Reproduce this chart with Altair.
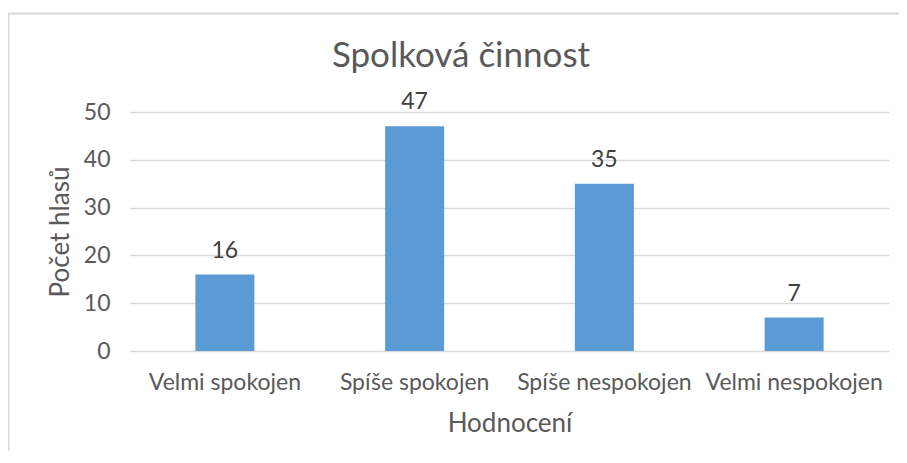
import altair as alt
import pandas as pd

title_text = "Spolková činnost"
categories = ["Velmi spokojen", "Spíše spokojen", "Spíše nespokojen", "Velmi nespokojen"]
votes = [16, 47, 35, 7]
y_ticks = [0, 10, 20, 30, 40, 50]

df = pd.DataFrame({"Hodnocení": categories, "Počet hlasů": votes})

FONT = "Lato"
TXT = "#595959"
GRID = "#d9d9d9"
W, H = 759, 239

base = alt.Chart(df).encode(
    x=alt.X("Hodnocení:N", sort=categories,
            scale=alt.Scale(paddingInner=0, paddingOuter=0),
            axis=alt.Axis(title="Hodnocení", labelAngle=0, domain=False, ticks=False, grid=False,
                          labelPadding=20, titlePadding=16, labelFontSize=23,
                          titleFontSize=26, labelColor=TXT, titleColor=TXT,
                          titleFontWeight="normal", labelFont=FONT, titleFont=FONT)),
    y=alt.Y("Počet hlasů:Q", scale=alt.Scale(domain=[0, 50]),
            axis=alt.Axis(title="Počet hlasů", values=y_ticks, domain=False, ticks=False,
                          grid=True, gridColor=GRID, gridWidth=1.5, labelPadding=20,
                          titlePadding=10, labelFontSize=23, titleFontSize=26,
                          labelColor=TXT, titleColor=TXT, titleFontWeight="normal",
                          labelFont=FONT, titleFont=FONT)),
)

bars = base.mark_bar(size=59, color="#5B9BD5")
labels = base.mark_text(baseline="alphabetic", dy=-17, fontSize=23, font=FONT, color="#404040").encode(
    text="Počet hlasů:Q")

border = alt.Chart(pd.DataFrame({"a": [0]})).mark_rect(
    fill=None, stroke=GRID, strokeWidth=2
).encode(x=alt.value(-121.5), x2=alt.value(1200), y=alt.value(-98.5), y2=alt.value(1200))

title = alt.Chart(pd.DataFrame({"t": [title_text]})).mark_text(
    fontSize=35, font=FONT, color=TXT, align="center", baseline="alphabetic"
).encode(text="t:N", x=alt.value(331), y=alt.value(-45))

chart = alt.layer(border, bars, labels, title).properties(
    width=W, height=H,
    autosize=alt.AutoSizeParams(type="none"),
    padding={"left": 122, "top": 104, "right": 10, "bottom": 100},
).configure_view(stroke=None)

chart.save("out.html", embed_options={"renderer": "svg", "actions": False})
